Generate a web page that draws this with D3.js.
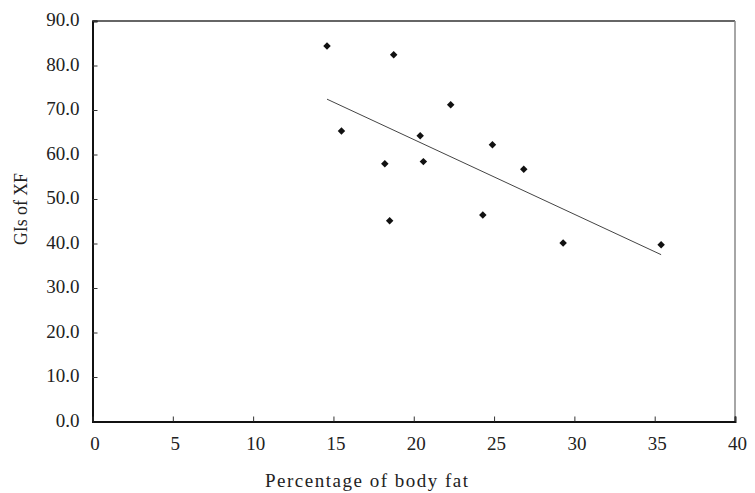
<!DOCTYPE html>
<html><head><meta charset="utf-8">
<script src="https://cdn.jsdelivr.net/npm/d3@7"></script>
<style>body{margin:0;background:#fff}svg{display:block}
text.lbl{font-family:'Liberation Serif','Times New Roman',serif;fill:#222}</style>
</head><body>
<svg id="c" width="755" height="493"></svg>
<script>
const bodyFat = [14.6, 18.75, 22.3, 15.5, 20.4, 24.9, 18.2, 20.6, 26.85, 18.5, 24.3, 29.3, 35.4];
const gisXF   = [84.4, 82.4, 71.2, 65.3, 64.2, 62.2, 57.9, 58.4, 56.7, 45.1, 46.4, 40.1, 39.7];
const xTicks = [0, 5, 10, 15, 20, 25, 30, 35, 40];
const yTicks = [0, 10, 20, 30, 40, 50, 60, 70, 80, 90];
const xTitle = "Percentage of body fat";
const yTitle = "GIs of XF";

const svg = d3.select("#c");
const L = 92.5, R = 735, T = 21, B = 421.5;
const x = d3.scaleLinear().domain([0, 40]).range([L, R]);
const y = d3.scaleLinear().domain([0, 90]).range([B, T]);

// frame top/right
svg.append("line").attr("x1", L).attr("x2", R).attr("y1", T).attr("y2", T)
  .attr("stroke", "#333").attr("stroke-width", 1.5);
svg.append("line").attr("x1", R).attr("x2", R).attr("y1", T).attr("y2", B)
  .attr("stroke", "#888").attr("stroke-width", 1.5);

// axes (ticks and lines)
const yAxis = svg.append("g").attr("transform", `translate(${L},0)`)
  .call(d3.axisLeft(y).tickValues(yTicks).tickSize(-5).tickFormat(""));
const xAxis = svg.append("g").attr("transform", `translate(0,${B})`)
  .call(d3.axisBottom(x).tickValues(xTicks).tickSize(-5).tickFormat(""));
[yAxis, xAxis].forEach(g => {
  g.select(".domain").attr("stroke", "#111").attr("stroke-width", 2);
  g.selectAll(".tick line").attr("stroke", "#333").attr("stroke-width", 1);
  g.selectAll(".tick text").remove();
});

// tick labels
const fmtY = d3.format(".1f"), fmtX = d3.format("d");
svg.append("g").selectAll("text").data(yTicks).join("text")
  .attr("class", "lbl").attr("x", L - 13).attr("y", d => y(d) - 1).attr("dy", "0.34em")
  .attr("text-anchor", "end").attr("font-size", 19).text(fmtY);
svg.append("g").selectAll("text").data(xTicks).join("text")
  .attr("class", "lbl").attr("x", d => x(d) + 2.5).attr("y", B + 22)
  .attr("dy", "0.34em").attr("text-anchor", "middle").attr("font-size", 19).text(fmtX);

// regression line
const n = bodyFat.length;
const mx = d3.mean(bodyFat), my = d3.mean(gisXF);
let sxy = 0, sxx = 0;
for (let i = 0; i < n; i++) { sxy += (bodyFat[i]-mx)*(gisXF[i]-my); sxx += (bodyFat[i]-mx)**2; }
const slope = sxy / sxx, icpt = my - slope * mx;
const [x0, x1] = d3.extent(bodyFat);
svg.append("line")
  .attr("x1", x(x0)).attr("y1", y(icpt + slope*x0))
  .attr("x2", x(x1)).attr("y2", y(icpt + slope*x1))
  .attr("stroke", "#444").attr("stroke-width", 1);

// points
const sym = d3.symbol().type(d3.symbolSquare).size(28);
svg.append("g").selectAll("path").data(bodyFat).join("path")
  .attr("d", sym)
  .attr("transform", (d, i) => `translate(${x(d)},${y(gisXF[i])}) rotate(45)`)
  .attr("fill", "#111");

// titles
svg.append("text").attr("class", "lbl").attr("x", 366.5).attr("y", 487).attr("text-anchor", "middle")
  .attr("font-size", 19).attr("textLength", 203).attr("lengthAdjust", "spacing").text(xTitle);
svg.append("text").attr("class", "lbl").attr("transform", "translate(27,209) rotate(-90)").attr("text-anchor", "middle")
  .attr("font-size", 19.5).attr("textLength", 72).attr("lengthAdjust", "spacingAndGlyphs").text(yTitle);
</script>
</body></html>
